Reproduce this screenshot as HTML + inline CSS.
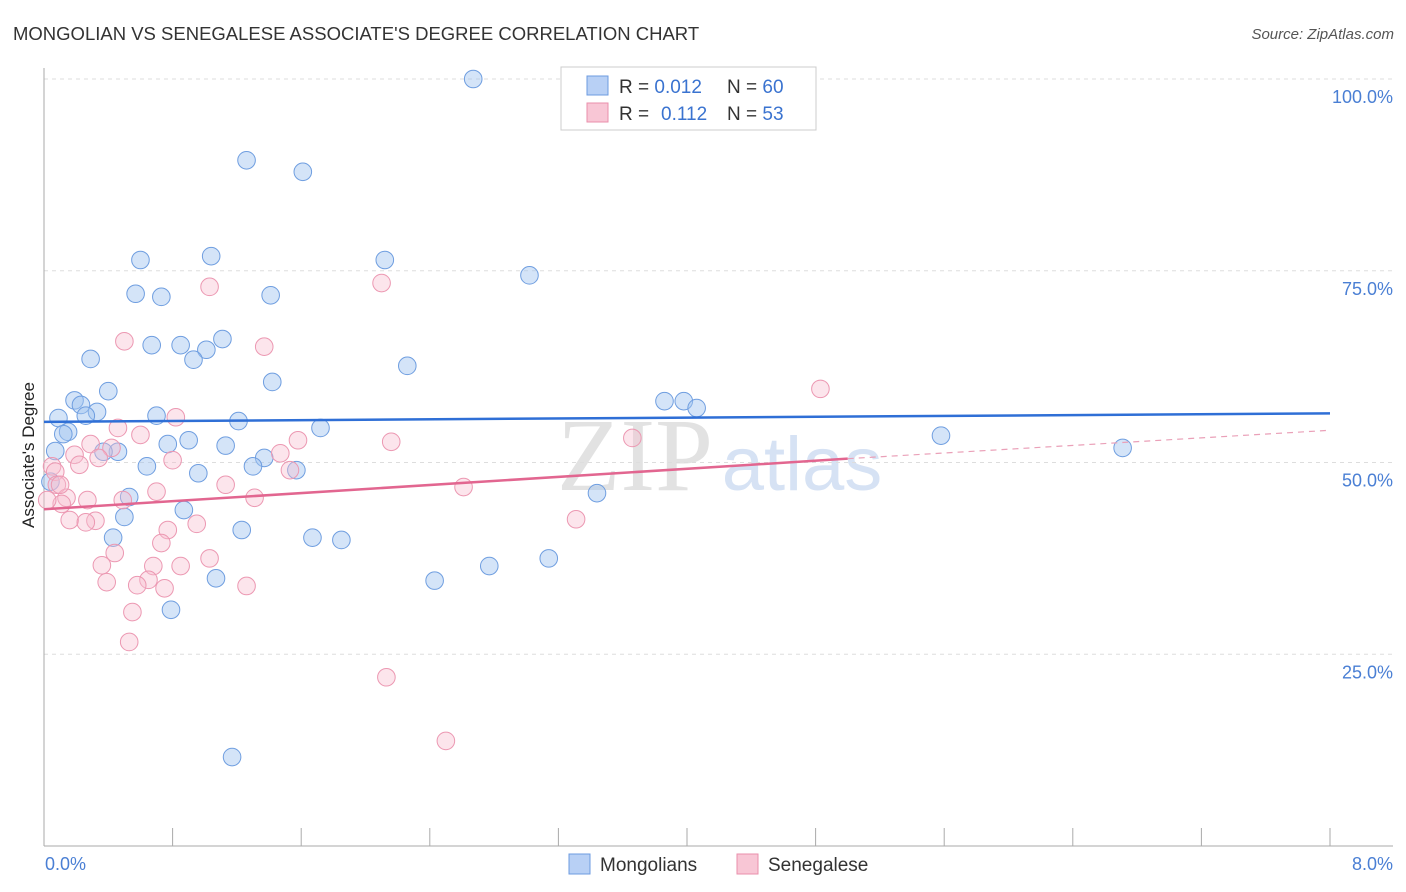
<!DOCTYPE html>
<html><head><meta charset="utf-8"><style>
body{margin:0;background:#fff;font-family:"Liberation Sans",sans-serif;}
#wrap{position:relative;width:1406px;height:892px;overflow:hidden;}
</style></head><body>
<div id="wrap">
<svg id="svg" width="1406" height="892" xmlns="http://www.w3.org/2000/svg">
<text x="13" y="40" font-size="18.5" fill="#333">MONGOLIAN VS SENEGALESE ASSOCIATE'S DEGREE CORRELATION CHART</text>
<text x="1394" y="39" font-size="15" fill="#555" text-anchor="end" font-style="italic">Source: ZipAtlas.com</text>
<text x="635" y="490" font-size="104" fill="#e2e2e2" text-anchor="middle" font-family="Liberation Serif,serif">ZIP</text>
<text x="802" y="490" font-size="76" fill="#d6e2f4" text-anchor="middle">atlas</text>
<g id="grid"></g><g id="pts"></g><g id="lines"></g>
<text transform="translate(34,455) rotate(-90)" font-size="17" fill="#222" text-anchor="middle">Associate's Degree</text>
<rect x="561" y="67" width="255" height="63" fill="#fff" stroke="#ccc"/>
<rect x="587" y="76" width="21" height="19" fill="#b8d0f5" stroke="#6d9be0"/>
<rect x="587" y="103" width="21" height="19" fill="#f8c6d5" stroke="#ea8fab"/>
<text x="619" y="93" font-size="19" fill="#333">R = <tspan fill="#3a73d0">0.012</tspan><tspan x="727">N = </tspan><tspan fill="#3a73d0">60</tspan></text>
<text x="619" y="120" font-size="19" fill="#333">R = <tspan x="661" fill="#3a73d0">0.112</tspan><tspan x="727">N = </tspan><tspan fill="#3a73d0">53</tspan></text>
<rect x="569" y="854" width="21" height="20" fill="#b8d0f5" stroke="#6d9be0"/>
<text x="600" y="871" font-size="19" fill="#333">Mongolians</text>
<rect x="737" y="854" width="21" height="20" fill="#f8c6d5" stroke="#ea8fab"/>
<text x="768" y="871" font-size="19" fill="#333">Senegalese</text>
</svg></div>
<script>
const bx=[2.67,1.26,1.61,1.04,0.60,2.12,3.02,0.57,0.73,1.41,1.11,0.67,0.85,1.01,0.93,0.29,2.26,1.42,0.40,0.19,0.23,0.33,0.26,0.09,0.70,1.21,1.72,3.86,3.98,4.06,0.15,0.12,0.90,0.77,1.13,5.58,6.71,0.07,0.46,0.37,1.37,0.64,1.30,1.57,0.96,0.04,0.53,3.44,0.87,0.50,1.23,0.43,1.67,1.85,3.14,2.77,2.43,1.07,0.79,1.17];
const by=[100.0,89.4,87.9,76.9,76.4,76.4,74.4,72.0,71.6,71.8,66.1,65.3,65.3,64.7,63.4,63.5,62.6,60.5,59.3,58.1,57.5,56.6,56.1,55.8,56.1,55.4,54.5,58.0,58.0,57.1,54.0,53.7,52.9,52.4,52.2,53.5,51.9,51.5,51.4,51.4,50.6,49.5,49.5,49.0,48.6,47.5,45.5,46.0,43.8,42.9,41.2,40.2,40.2,39.9,37.5,36.5,34.6,34.9,30.8,11.6];
const px=[2.10,1.03,0.50,1.37,4.83,0.82,0.46,0.60,3.66,1.58,2.16,0.29,0.42,0.19,1.47,0.80,0.34,0.22,0.05,0.07,1.53,0.08,1.13,0.70,2.61,1.31,0.14,0.27,0.49,0.11,0.16,0.32,0.26,0.77,0.95,3.31,0.73,0.44,1.03,0.36,0.68,0.85,0.65,0.39,0.58,0.75,1.26,0.55,0.53,2.13,2.50,0.02,0.10];
const py=[73.4,72.9,65.8,65.1,59.6,55.9,54.5,53.6,53.2,52.9,52.7,52.4,51.9,51.0,51.2,50.3,50.6,49.7,49.5,48.8,49.0,47.1,47.1,46.2,46.8,45.4,45.4,45.1,45.1,44.6,42.5,42.4,42.2,41.2,42.0,42.6,39.5,38.2,37.5,36.6,36.5,36.5,34.7,34.4,34.0,33.6,33.9,30.5,26.6,22.0,13.7,45.1,47.1];
const blueTrend=[55.3,56.4];
const pinkTrend=[43.9,50.5,54.2];
const yTicks=[25,50,75,100];
const NS='http://www.w3.org/2000/svg';
const X=v=>44+v*160.75, Y=v=>846-v*7.67;
function mk(t,a,p){const e=document.createElementNS(NS,t);for(const k in a)e.setAttribute(k,a[k]);document.getElementById(p).appendChild(e);return e;}
const g='grid';
yTicks.forEach(t=>{
 const l=mk('line',{x1:44,x2:1393,y1:Y(t),y2:Y(t),stroke:'#ddd','stroke-dasharray':'4,4'},g);
 
 
 const tx=mk('text',{x:1393,y:Y(t)+24,'font-size':18,fill:'#4a7fd4','text-anchor':'end'},g);tx.textContent=t.toFixed(1)+'%';
 
 
});
const ax=mk('line',{x1:44,x2:1393,y1:846,y2:846,stroke:'#aaa'},g);


const ay=mk('line',{x1:44,x2:44,y1:68,y2:846,stroke:'#aaa'},g);


for(let i=1;i<=10;i++){const t=mk('line',{x1:X(i*0.8),x2:X(i*0.8),y1:828,y2:846,stroke:'#aaa'},g);
 
 }
[[0,'0.0%','start',45],[8,'8.0%','end',1393]].forEach(a=>{const t=mk('text',{x:a[3],y:870,'font-size':18,fill:'#4a7fd4','text-anchor':a[2]},g);t.textContent=a[1];
 
 });
bx.forEach((v,i)=>{const c=mk('circle',{cx:X(v),cy:Y(by[i]),r:8.8,fill:'rgba(160,195,240,0.45)',stroke:'#6f9ee0','stroke-width':1},'pts');
 
 });
px.forEach((v,i)=>{const c=mk('circle',{cx:X(v),cy:Y(py[i]),r:8.8,fill:'rgba(248,190,208,0.4)',stroke:'#ec98b2','stroke-width':1},'pts');
 
 });
const bl=mk('line',{x1:X(0),y1:Y(blueTrend[0]),x2:X(8),y2:Y(blueTrend[1]),stroke:'#2f6fd6','stroke-width':2.5},'lines');


const pl=mk('line',{x1:X(0),y1:Y(pinkTrend[0]),x2:X(5),y2:Y(pinkTrend[1]),stroke:'#e26690','stroke-width':2.5},'lines');


const pd=mk('line',{x1:X(5),y1:Y(pinkTrend[1]),x2:X(8),y2:Y(pinkTrend[2]),stroke:'#eaa0b8','stroke-width':1.2,'stroke-dasharray':'6,5'},'lines');


</script>
</body></html>
